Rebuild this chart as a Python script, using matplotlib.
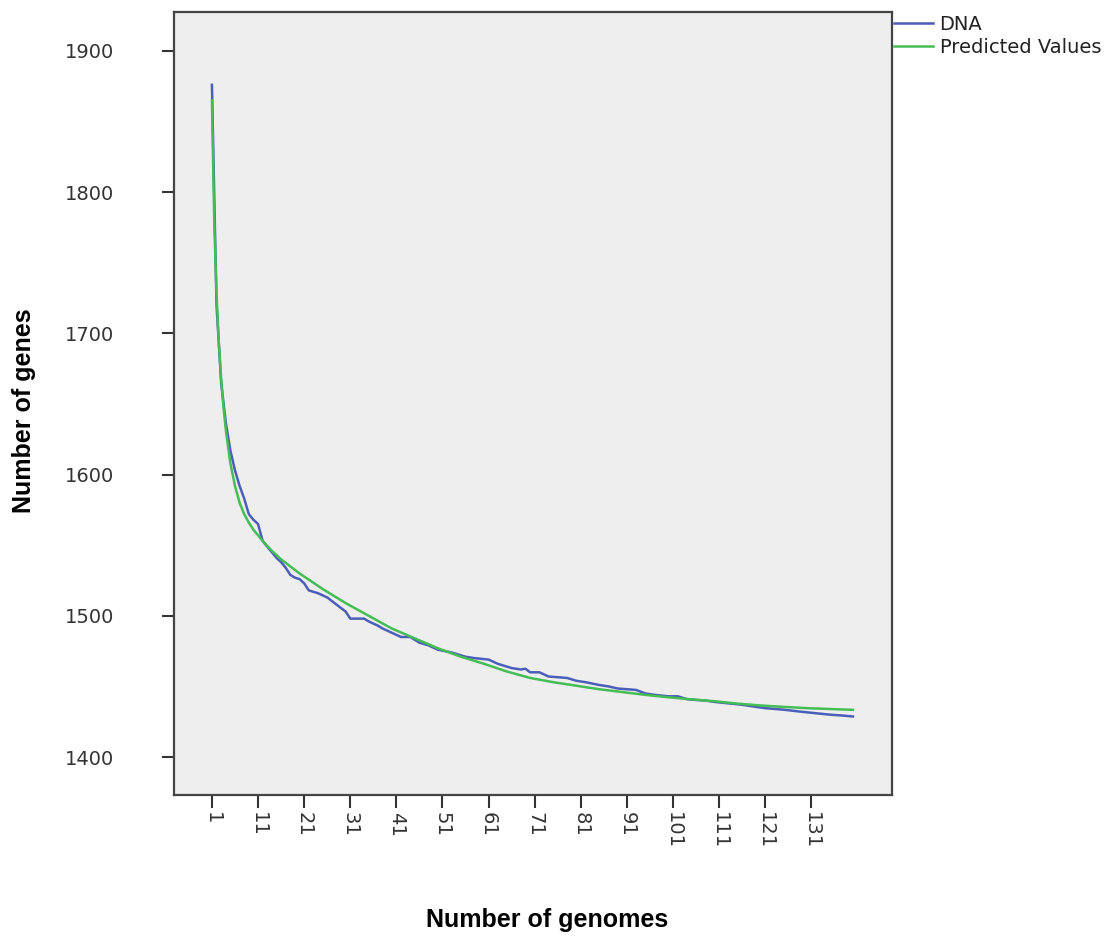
import matplotlib
matplotlib.use("Agg")
import matplotlib.pyplot as plt

# ---- data ----
dna_x = [1, 2, 3, 4, 5, 6, 7, 8, 9, 10, 11, 12, 13, 14, 15, 16, 17, 18, 19, 20,
         21, 22, 24, 26, 28, 30, 31, 33, 34, 35, 37, 38, 40, 42, 44, 46, 48, 50,
         53, 56, 58, 61, 63, 66, 68, 69, 70, 72, 74, 76, 78, 80, 82, 85, 87, 89,
         91, 93, 95, 97, 100, 102, 104, 106, 108, 110, 113, 116, 119, 121, 125,
         129, 132, 135, 138, 140]
dna_y = [1876, 1720, 1665, 1637, 1617, 1603, 1592, 1583, 1572, 1568, 1565, 1553,
         1549, 1545, 1541, 1538, 1534, 1529, 1527, 1526, 1523, 1518, 1516, 1513,
         1508, 1503, 1498, 1498, 1498, 1496, 1493, 1491, 1488, 1485, 1485, 1481,
         1479, 1476, 1474, 1471, 1470, 1469, 1466, 1463, 1462, 1462.5, 1460, 1460,
         1457, 1456.5, 1456, 1454, 1453, 1451, 1450, 1448.5, 1448, 1447.5, 1445,
         1444, 1443, 1443, 1441, 1440.4, 1440, 1439, 1438, 1437, 1435.5, 1434.6,
         1433.5, 1432, 1431, 1430, 1429.3, 1428.7]

pred_x = [1, 1.5, 2, 2.5, 3, 3.5, 4, 5, 6, 7, 8, 9, 10, 12, 14, 16, 18, 20, 25, 30,
          35, 40, 45, 50, 55, 60, 65, 70, 75, 80, 85, 90, 95, 100, 105, 110, 115,
          120, 125, 130, 135, 140]
pred_y = [1865, 1780, 1728, 1693, 1668, 1648, 1632, 1608, 1592, 1580, 1572, 1566,
          1561, 1553, 1546, 1540, 1535, 1530, 1519, 1509, 1500, 1491, 1484, 1477,
          1471, 1466, 1460.5, 1456, 1453, 1450.5, 1448, 1446, 1444, 1442.3, 1440.8,
          1439.5, 1437.8, 1436.5, 1435.5, 1434.6, 1434, 1433.4]

x_ticks = list(range(1, 132, 10))
y_ticks = [1400, 1500, 1600, 1700, 1800, 1900]

series_names = ["DNA", "Predicted Values"]

# ---- figure ----
fig = plt.figure(figsize=(11.09, 9.41), dpi=100)
ax = fig.add_axes([0.157, 0.155, 0.647, 0.832])
ax.set_facecolor("#EEEEEE")

l1, = ax.plot(dna_x, dna_y, color="#4C5FB8", lw=1.8, label=series_names[0])
l2, = ax.plot(pred_x, pred_y, color="#45BC55", lw=1.8, label=series_names[1])

ax.set_xlim(-7.2, 148.4)
ax.set_ylim(1373, 1927.4)

ax.set_xticks(x_ticks)
ax.set_xticklabels([str(t) for t in x_ticks], rotation=-90, ha="center", va="top")
ax.set_yticks(y_ticks)

ax.tick_params(axis="both", length=9, width=1.5, color="#333333",
               labelsize=14, labelcolor="#333333")
ax.tick_params(axis="x", pad=3)
ax.tick_params(axis="y", pad=34)

for s in ax.spines.values():
    s.set_linewidth(1.6)
    s.set_color("#444444")

fig.text(0.493, 0.022, "Number of genomes", ha="center", va="center",
         fontsize=18, fontweight="bold", family="Liberation Sans")
fig.text(0.022, 0.564, "Number of genes", ha="center", va="center",
         rotation=90, fontsize=18, fontweight="bold", family="Liberation Sans")

fig.legend(handles=[l1, l2], loc="upper left", bbox_to_anchor=(0.806, 0.984),
           frameon=False, fontsize=14, handlelength=2.0, handletextpad=0.35,
           labelspacing=0.2, borderaxespad=0, borderpad=0, labelcolor="#222222")

fig.savefig("out.png", dpi=100)
